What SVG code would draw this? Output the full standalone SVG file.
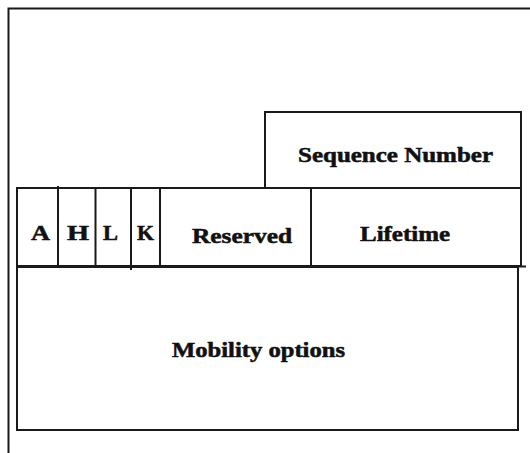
<svg xmlns="http://www.w3.org/2000/svg" width="530" height="453" viewBox="0 0 530 453">
<style>
.ln{stroke:#1a1a1a;stroke-width:2;fill:none}
.tx{font-family:"Liberation Serif","Times New Roman",serif;font-weight:bold;font-size:20px;fill:#111;stroke:#111;stroke-width:0.5}
</style>
<rect width="530" height="453" fill="#fff"/>
<g id="frame"><path class="ln" d="M8.5,453 V8.5 H530"/></g>
<g id="seq"><rect class="ln" x="265" y="112" width="256" height="76"/><text class="tx" x="298" y="162" textLength="195" lengthAdjust="spacingAndGlyphs">Sequence Number</text></g>
<g id="row"><rect class="ln" x="17" y="188" width="504" height="78"/></g>
<g id="A"><text class="tx" x="31" y="240" textLength="19" lengthAdjust="spacingAndGlyphs">A</text></g>
<g id="H"><text class="tx" x="67" y="240" textLength="22" lengthAdjust="spacingAndGlyphs">H</text></g>
<g id="L"><text class="tx" x="103" y="240" textLength="15" lengthAdjust="spacingAndGlyphs">L</text></g>
<g id="K"><text class="tx" x="137" y="240" textLength="17" lengthAdjust="spacingAndGlyphs">K</text></g>
<g id="reserved"><text class="tx" x="192" y="243" textLength="100" lengthAdjust="spacingAndGlyphs">Reserved</text></g>
<g id="lifetime"><text class="tx" x="360" y="241" textLength="90" lengthAdjust="spacingAndGlyphs">Lifetime</text></g>
<g id="mobility"><rect class="ln" x="17" y="267" width="501" height="163"/><text class="tx" x="172" y="357" textLength="173" lengthAdjust="spacingAndGlyphs">Mobility options</text></g>
<g id="connectors">
<path class="ln" d="M58,186 V266 M95.5,188 V266 M131,188 V270 M160,188 V266 M311,188 V266"/>
<path class="ln" stroke-width="3" d="M17,266.5 H526"/>
</g>
</svg>
